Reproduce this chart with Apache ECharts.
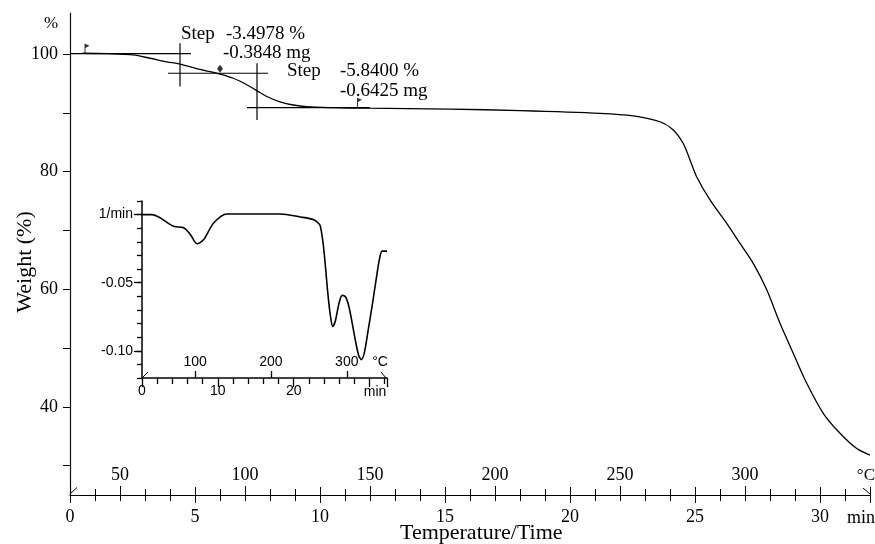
<!DOCTYPE html>
<html><head><meta charset="utf-8">
<script src="https://cdn.jsdelivr.net/npm/echarts@6/dist/echarts.min.js"></script>
<style>html,body{margin:0;padding:0;background:#fff}#c{width:875px;height:544px}</style>
</head><body><div id="c"></div>
<script>
// ---- Main TGA curve (time in min, weight in %) ----
const mainTime   = [0.5, 1.5, 2.53, 3.2, 3.87, 4.4, 5.2, 6.0, 6.53, 7.07, 7.47, 7.87, 8.4, 8.93, 9.47, 10.53, 11.87, 15.2, 18.0, 21.2, 22.53, 23.6, 24.13, 24.53, 24.8, 25.07, 25.6, 26.27, 26.8, 27.33, 27.87, 28.4, 28.93, 29.47, 30.13, 30.8, 31.47, 32.0];
const mainWeight = [100.15, 100.08, 99.86, 99.3, 98.7, 98.3, 97.4, 96.6, 95.9, 94.8, 93.8, 92.8, 91.9, 91.35, 91.06, 90.9, 90.8, 90.65, 90.4, 89.94, 89.5, 88.5, 87.1, 84.8, 82.0, 79.1, 75.2, 71.2, 67.8, 64.4, 59.9, 54.2, 49.1, 44.0, 38.9, 35.5, 32.9, 31.8];

// ---- Inset DTG curve (time in min, rate in 1/min) ----
const insetTime = [0, 1.32, 2.41, 4.17, 5.49, 6.37, 7.26, 8.13, 9.45, 11.21, 18.25, 20.88, 22.64, 23.3, 23.52, 23.87, 24.18, 24.49, 24.84, 25.15, 25.5, 25.94, 26.39, 26.82, 27.26, 27.7, 28.14, 28.58, 28.93, 29.33, 29.77, 30.34, 30.87, 31.3, 31.66, 32.3];
const insetRate = [0, 0, -0.0024, -0.0086, -0.0097, -0.0146, -0.0214, -0.0183, -0.0061, 0.0005, 0.0005, -0.0017, -0.0037, -0.0065, -0.0086, -0.0208, -0.0378, -0.0573, -0.0744, -0.0822, -0.078, -0.0659, -0.0593, -0.0603, -0.0671, -0.0793, -0.0927, -0.1036, -0.1065, -0.101, -0.0865, -0.0671, -0.0476, -0.0329, -0.0268, -0.0268];

// ---- Axis ticks / labels ----
const weightTicks = [30, 40, 50, 60, 70, 80, 90, 100];
const weightLabels = [40, 60, 80, 100];
const tempLabels = [50, 100, 150, 200, 250, 300];
const insetTempLabels = [100, 200, 300];
const insetRateLabels = [0, -0.05, -0.10];

// ---- Step evaluation annotations (data units) ----
const stepSegments = [
  [[0, 100.1], [4.84, 100.1]],
  [[4.4, 101.85], [4.4, 94.5]],
  [[3.92, 96.75], [7.92, 96.75]],
  [[7.48, 98.45], [7.48, 88.8]],
  [[7.08, 90.9], [12.0, 90.9]]
];
const stepFlags = [[0.6, 100.1], [11.5, 90.9]];
const stepDiamond = [[6.0, 97.5]];
const stepTexts = ['Step', '-3.4978 %', '-0.3848 mg', 'Step', '-5.8400 %', '-0.6425 mg'];

const zip = (a, b) => a.map((v, i) => [v, b[i]]);
const SERIF = '"Liberation Serif", "Times New Roman", serif';
const SANS = '"Liberation Sans", Arial, sans-serif';

const chart = echarts.init(document.getElementById('c'), null, {renderer: 'canvas'});

const txt = (x, y, text, size, font, align, extra) => Object.assign({
  type: 'text', x: x, y: y, z: 100,
  style: {text: text, font: size + 'px ' + font, fill: '#000', align: align || 'left', verticalAlign: 'middle'}
}, extra || {});
const ln = (pts) => ({type: 'polyline', z: 100, shape: {points: pts}, style: {stroke: '#000', lineWidth: 1, fill: null}});

const option = {
  backgroundColor: '#fff',
  animation: false,
  grid: [
    {left: 70, top: 13, width: 800, height: 482},
    {left: 142, top: 201, width: 245, height: 177}
  ],
  xAxis: [
    { // time axis, outside ticks + labels
      type: 'value', gridIndex: 0, position: 'bottom', min: 0, max: 32, interval: 5,
      axisLine: {show: true, onZero: false, lineStyle: {color: '#000', width: 1.2}},
      axisTick: {show: true, inside: false, length: 8, lineStyle: {color: '#000'}},
      minorTick: {show: true, splitNumber: 5, length: 6, lineStyle: {color: '#000'}},
      axisLabel: {show: true, margin: 13, color: '#000', fontFamily: SERIF, fontSize: 18,
        formatter: v => (v <= 30 ? String(v) : '')},
      splitLine: {show: false}, minorSplitLine: {show: false}
    },
    { // time axis, inside ticks
      type: 'value', gridIndex: 0, position: 'bottom', min: 0, max: 32, interval: 5,
      axisLine: {show: false, onZero: false},
      axisTick: {show: true, inside: true, length: 8, lineStyle: {color: '#000'}},
      minorTick: {show: true, splitNumber: 5, length: 6, lineStyle: {color: '#000'}},
      axisLabel: {show: false}, splitLine: {show: false}
    },
    { // temperature axis
      type: 'value', gridIndex: 0, position: 'bottom', min: 30, max: 350,
      axisLine: {show: false, onZero: false},
      axisTick: {show: true, inside: true, length: 9, customValues: tempLabels, lineStyle: {color: '#000'}},
      axisLabel: {show: true, inside: true, margin: 11, customValues: tempLabels, color: '#000', fontFamily: SERIF, fontSize: 18},
      splitLine: {show: false}
    },
    { // inset time axis
      type: 'value', gridIndex: 1, position: 'bottom', min: 0, max: 32.3, interval: 10,
      axisLine: {show: true, onZero: false, lineStyle: {color: '#000', width: 1.5}},
      axisTick: {show: true, length: 9, lineStyle: {color: '#000', width: 1.3}},
      minorTick: {show: true, splitNumber: 5, length: 6, lineStyle: {color: '#000', width: 1.3}},
      axisLabel: {show: true, margin: 6, color: '#000', fontFamily: SANS, fontSize: 14,
        formatter: v => (v <= 20 ? String(v) : '')},
      splitLine: {show: false}
    },
    { // inset temperature axis
      type: 'value', gridIndex: 1, position: 'bottom', min: 30, max: 353,
      axisLine: {show: false, onZero: false},
      axisTick: {show: true, inside: true, length: 7, customValues: insetTempLabels, lineStyle: {color: '#000', width: 1.3}},
      axisLabel: {show: true, inside: true, margin: 9, customValues: insetTempLabels, color: '#000', fontFamily: SANS, fontSize: 14},
      splitLine: {show: false}
    }
  ],
  yAxis: [
    {
      type: 'value', gridIndex: 0, position: 'left', min: 25, max: 107,
      axisLine: {show: true, onZero: false, lineStyle: {color: '#111', width: 1.2}},
      axisTick: {show: true, length: 7, customValues: weightTicks, lineStyle: {color: '#000'}},
      axisLabel: {show: true, margin: 12, customValues: weightLabels, color: '#000', fontFamily: SERIF, fontSize: 18},
      splitLine: {show: false}
    },
    {
      type: 'value', gridIndex: 1, position: 'left', min: -0.12, max: 0.01,
      axisLine: {show: true, onZero: false, lineStyle: {color: '#000', width: 1.5}},
      axisTick: {show: true, length: 8, customValues: insetRateLabels, lineStyle: {color: '#000', width: 1.3}},
      axisLabel: {show: true, margin: 9, customValues: insetRateLabels, color: '#000', fontFamily: SANS, fontSize: 14,
        formatter: v => (Math.abs(v) < 1e-9 ? '1/min' : v.toFixed(2))},
      splitLine: {show: false}
    },
    {
      type: 'value', gridIndex: 1, position: 'left', min: -0.12, max: 0.01, interval: 0.01,
      axisLine: {show: false, onZero: false},
      axisTick: {show: true, length: 5, lineStyle: {color: '#000', width: 1.3}},
      axisLabel: {show: false}, splitLine: {show: false}
    }
  ],
  series: [
    {
      type: 'line', xAxisIndex: 0, yAxisIndex: 0, data: zip(mainTime, mainWeight),
      showSymbol: false, smooth: 0.3,
      lineStyle: {color: '#000', width: 1.3}
    },
    ...stepSegments.map(seg => ({
      type: 'line', xAxisIndex: 0, yAxisIndex: 0, data: seg, showSymbol: false,
      lineStyle: {color: '#000', width: 1.2}
    })),
    {
      type: 'scatter', xAxisIndex: 0, yAxisIndex: 0, data: stepFlags,
      symbol: 'path://M0,0 L6,2.2 L1.2,4.4 L1.2,10 L0,10 Z', symbolSize: [5, 10], symbolOffset: [2, -5],
      itemStyle: {color: '#000'}
    },
    {
      type: 'scatter', xAxisIndex: 0, yAxisIndex: 0, data: stepDiamond,
      symbol: 'diamond', symbolSize: [6, 8], itemStyle: {color: '#000'}
    },
    {
      type: 'line', xAxisIndex: 3, yAxisIndex: 1, data: zip(insetTime, insetRate),
      showSymbol: false, smooth: 0.3,
      lineStyle: {color: '#000', width: 1.6}
    }
  ],
  graphic: [
    txt(51, 24, '%', 17, SERIF, 'center'),
    txt(25, 262, 'Weight (%)', 22, SERIF, 'center', {rotation: Math.PI / 2}),
    txt(400, 533, 'Temperature/Time', 22, SERIF, 'left'),
    txt(847, 518, 'min', 18, SERIF, 'left'),
    txt(875, 476, '°C', 17, SERIF, 'right'),
    txt(181, 34, stepTexts[0], 19, SERIF, 'left'),
    txt(226, 34, stepTexts[1], 19, SERIF, 'left'),
    txt(223, 53.5, stepTexts[2], 19, SERIF, 'left'),
    txt(287, 71, stepTexts[3], 19, SERIF, 'left'),
    txt(340, 71, stepTexts[4], 19, SERIF, 'left'),
    txt(340, 91, stepTexts[5], 19, SERIF, 'left'),
    txt(375, 392, 'min', 14, SANS, 'center'),
    txt(380, 362, '°C', 14, SANS, 'center'),
    ln([[70, 494], [77, 487.5]]),
    ln([[863, 488], [870, 494]]),
    ln([[142, 378], [148, 372]]),
    ln([[381, 372], [386, 378]])
  ]
};
chart.setOption(option);
</script>
</body></html>
